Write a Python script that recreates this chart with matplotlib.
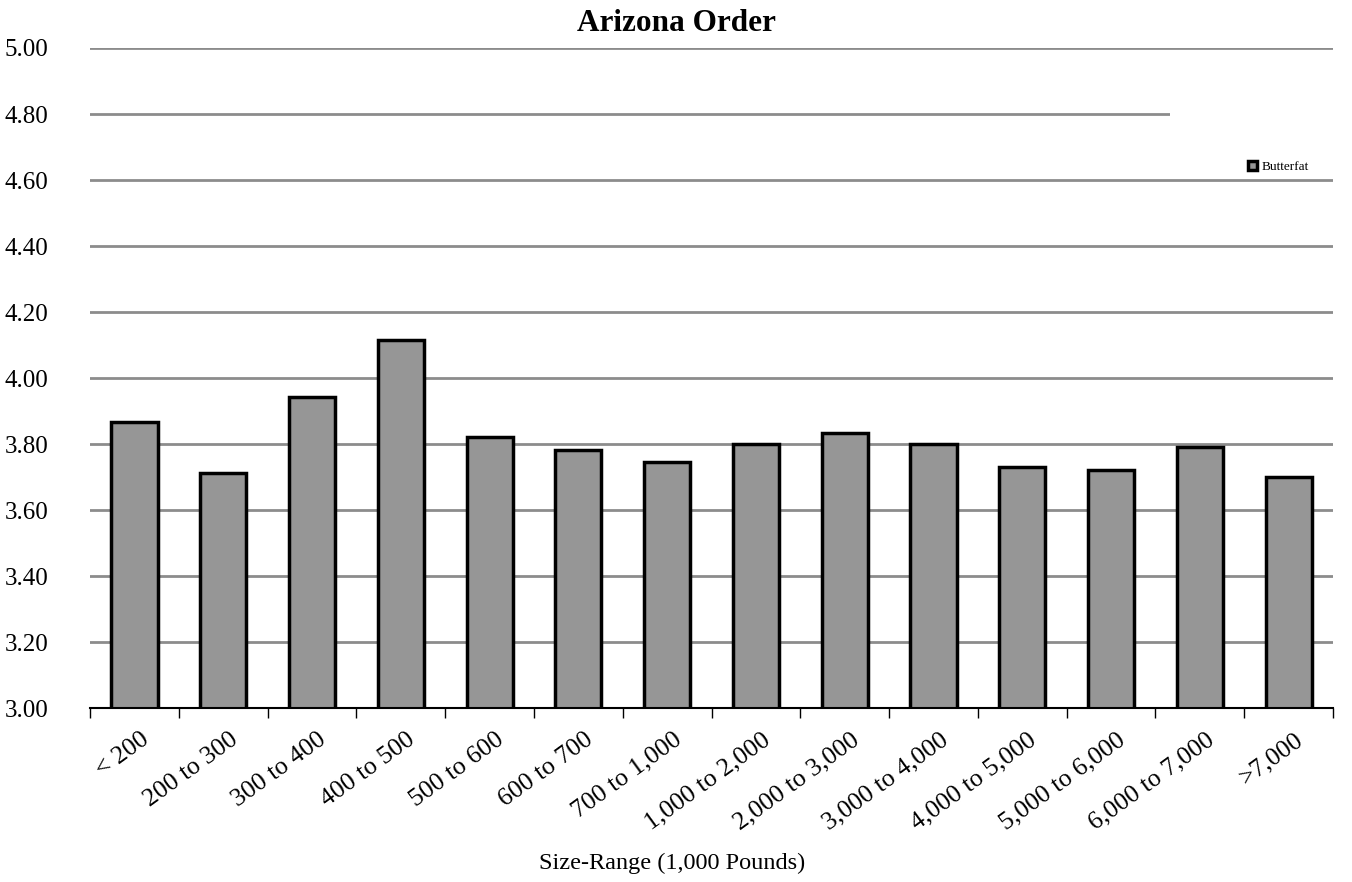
import matplotlib
matplotlib.use('Agg')
import matplotlib.pyplot as plt
from matplotlib.patches import Rectangle
from matplotlib.transforms import ScaledTranslation
import numpy as np

# Butterfat test by size range, Arizona Order
size_ranges = ['< 200', '200 to 300', '300 to 400', '400 to 500', '500 to 600',
               '600 to 700', '700 to 1,000', '1,000 to 2,000', '2,000 to 3,000',
               '3,000 to 4,000', '4,000 to 5,000', '5,000 to 6,000',
               '6,000 to 7,000', '>7,000']
butterfat = [3.868, 3.714, 3.942, 4.115, 3.821, 3.783, 3.746, 3.801, 3.835,
             3.799, 3.732, 3.723, 3.790, 3.701]
y_ticks = [3.00, 3.20, 3.40, 3.60, 3.80, 4.00, 4.20, 4.40, 4.60, 4.80, 5.00]

plt.rcParams['font.family'] = ['Liberation Serif', 'DejaVu Serif']

fig = plt.figure(figsize=(13.52, 8.82), dpi=100)
ax = fig.add_axes([0.0666, 0.197, 0.9194, 0.7486])

x = np.arange(len(size_ranges))
ax.bar(x, butterfat, width=0.52, bottom=0, color='#969696',
       edgecolor='black', linewidth=2.5, label='Butterfat', zorder=2)

ax.set_xlim(-0.5, len(size_ranges) - 0.5)
ax.set_ylim(3.0, 5.0)
ax.set_yticks(y_ticks)
ax.set_yticklabels([f'{v:.2f}' for v in y_ticks], fontsize=18)
ax.tick_params(axis='y', length=0, pad=30)

# category boundary ticks, labels at centres
ax.set_xticks(np.arange(len(size_ranges) + 1) - 0.5)
ax.set_xticklabels([])
ax.set_xticks(x, minor=True)
ax.set_xticklabels(size_ranges, minor=True, rotation=36, ha='right',
                   va='center', rotation_mode='anchor', fontsize=18.5)
ax.tick_params(axis='x', which='major', direction='out', length=7, width=1)
ax.tick_params(axis='x', which='minor', length=0, pad=21)
shift = ScaledTranslation(0.12, 0, fig.dpi_scale_trans)
for lbl in ax.get_xticklabels(minor=True):
    lbl.set_transform(lbl.get_transform() + shift)

ax.yaxis.grid(True, color='#8c8c8c', linewidth=2)
ax.set_axisbelow(True)
for s in ['left', 'right', 'top']:
    ax.spines[s].set_visible(False)
ax.spines['bottom'].set_linewidth(1.5)
ax.spines['bottom'].set_zorder(3)

# legend area blanks out the grid behind it
ax.add_patch(Rectangle((0.869, 0.86), 0.2, 0.1, transform=ax.transAxes,
                       facecolor='white', edgecolor='none', zorder=1,
                       clip_on=False))
ax.legend(loc='center left', bbox_to_anchor=(0.922, 0.82), frameon=False,
          fontsize=9.5, handlelength=0.7, handleheight=0.7, handletextpad=0.3)

fig.suptitle('Arizona Order', fontsize=22.5, fontweight='bold', y=0.99)
fig.text(0.497, 0.015, 'Size-Range (1,000 Pounds)', ha='center', fontsize=17.5)

fig.savefig('out.png', dpi=100)
